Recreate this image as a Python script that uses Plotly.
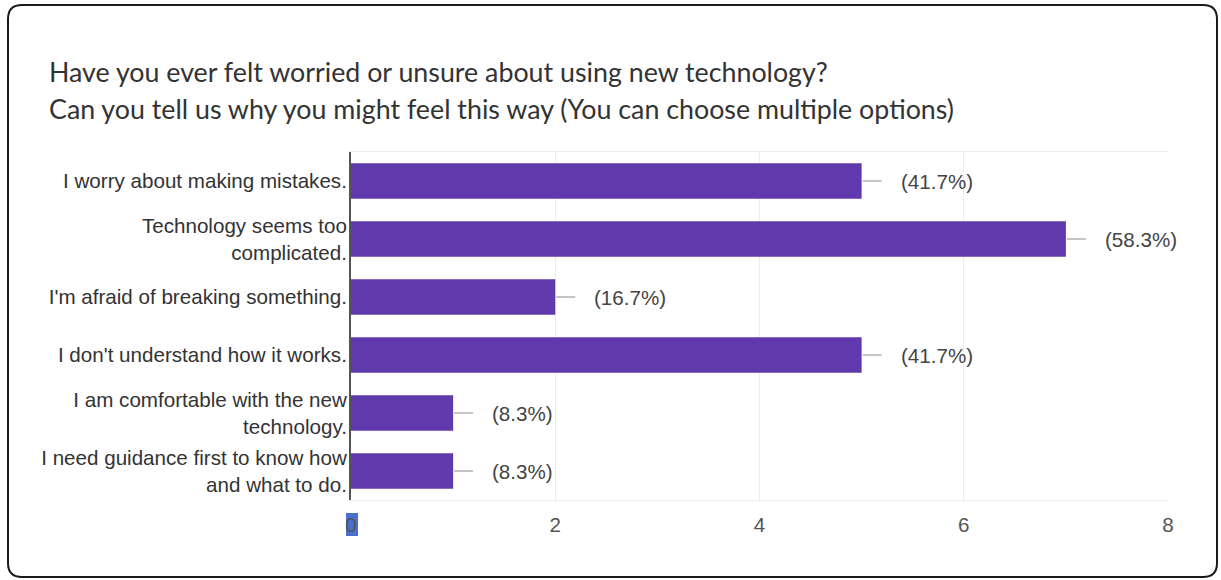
import plotly.graph_objects as go

# Survey responses: reasons for feeling unsure about new technology
categories = [
    "I worry about making mistakes.",
    "Technology seems too<br>complicated.",
    "I'm afraid of breaking something.",
    "I don't understand how it works.",
    "I am comfortable with the new<br>technology.",
    "I need guidance first to know how<br>and what to do.",
]
counts = [5, 7, 2, 5, 1, 1]
percent_labels = ["(41.7%)", "(58.3%)", "(16.7%)", "(41.7%)", "(8.3%)", "(8.3%)"]
x_ticks = [0, 2, 4, 6, 8]

title_lines = [
    "Have you ever felt worried or unsure about using new technology?",
    "Can you tell us why you might feel this way (You can choose multiple options)",
]

W, H = 1221, 580
M_L, M_R, M_T, M_B = 351, 53, 152, 80
PW, PH = W - M_L - M_R, H - M_T - M_B

BAR = "#6039ac"
FONT = "Liberation Sans, Arial, sans-serif"
FS = 20.6


def px(x):
    return (x - M_L) / PW


def py(y):
    return (H - M_B - y) / PH


fig = go.Figure(
    go.Bar(
        x=counts,
        y=categories,
        orientation="h",
        marker=dict(color=BAR, line=dict(width=0)),
        hoverinfo="skip",
    )
)

shapes = []
annotations = []

# leader lines and percentage labels beside each bar
for i, (v, lab) in enumerate(zip(counts, percent_labels)):
    shapes.append(dict(
        type="line", xref="x", yref="y", xsizemode="pixel", xanchor=v,
        x0=1, x1=20, y0=i, y1=i, line=dict(color="#9e9e9e", width=1.2),
    ))
    annotations.append(dict(
        x=v, y=i, xref="x", yref="y", text=lab, showarrow=False,
        xanchor="left", yanchor="middle", xshift=37,
        font=dict(family=FONT, size=FS, color="#444444"),
    ))

# rounded frame around the card
l, r, t, b, rad = 8, 1217, 5, 577, 14
path = (
    f"M {px(l + rad)},{py(t)} L {px(r - rad)},{py(t)} "
    f"Q {px(r)},{py(t)} {px(r)},{py(t + rad)} "
    f"L {px(r)},{py(b - rad)} Q {px(r)},{py(b)} {px(r - rad)},{py(b)} "
    f"L {px(l + rad)},{py(b)} Q {px(l)},{py(b)} {px(l)},{py(b - rad)} "
    f"L {px(l)},{py(t + rad)} Q {px(l)},{py(t)} {px(l + rad)},{py(t)} Z"
)
shapes.append(dict(type="path", xref="paper", yref="paper", path=path,
                   line=dict(color="#1a1a1a", width=2), layer="below"))

# selection highlight behind the zero tick label
shapes.append(dict(type="rect", xref="paper", yref="paper",
                   x0=px(346), x1=px(358), y0=py(536), y1=py(513),
                   fillcolor="#4a6fcf", line=dict(width=0), layer="below"))

for k, (txt, yc) in enumerate(zip(title_lines, [72, 109])):
    annotations.append(dict(
        x=px(47), y=py(yc), xref="paper", yref="paper", text=txt,
        showarrow=False, xanchor="left", yanchor="middle",
        font=dict(family="Lato, sans-serif", size=26.8, color="#333333"),
    ))

fig.update_layout(
    width=W, height=H,
    margin=dict(l=M_L, r=M_R, t=M_T, b=M_B, autoexpand=False),
    paper_bgcolor="white", plot_bgcolor="white",
    bargap=0.39, showlegend=False,
    shapes=shapes, annotations=annotations,
    xaxis=dict(
        range=[0, 8], tickvals=x_ticks, ticktext=[str(v) for v in x_ticks],
        showgrid=True, gridcolor="#ececec", gridwidth=1,
        zeroline=False, showline=True, linecolor="#ececec", linewidth=1, mirror=True,
        ticks="", ticklabelstandoff=6,
        tickfont=dict(family=FONT, size=FS, color="#555555"),
    ),
    yaxis=dict(
        autorange="reversed", showgrid=False, zeroline=False,
        showline=True, linecolor="#555555", linewidth=2,
        ticks="", ticklabelstandoff=-2,
        tickfont=dict(family=FONT, size=FS, color="#333333"),
    ),
)

fig.write_html("out.html")
